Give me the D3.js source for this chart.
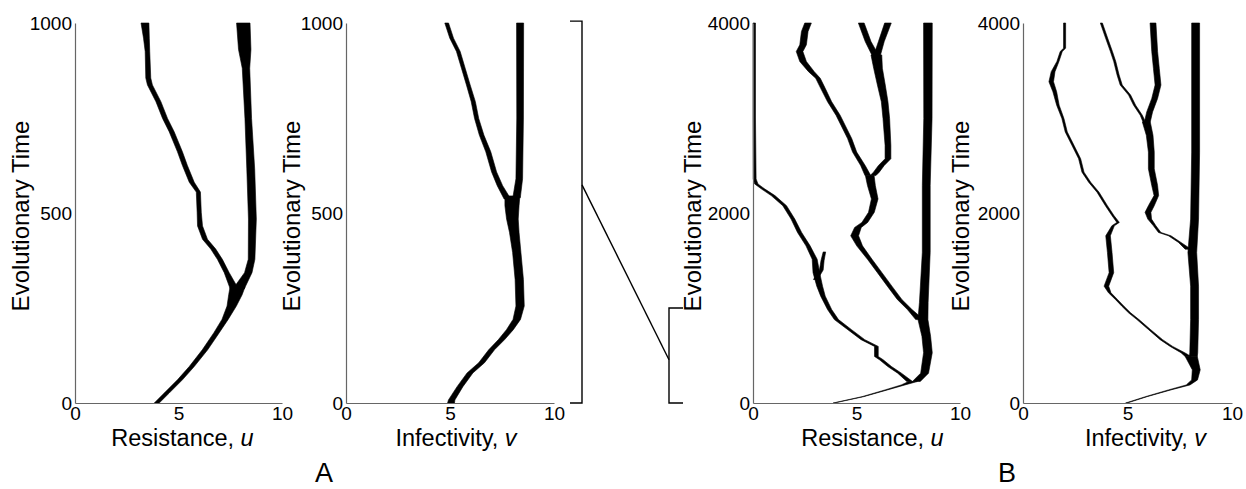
<!DOCTYPE html>
<html>
<head>
<meta charset="utf-8">
<script src="https://cdn.jsdelivr.net/npm/d3@7"></script>
<style>
  html, body { margin: 0; padding: 0; background: #fff; }
  svg { display: block; }
  text { font-family: "Liberation Sans", Arial, Helvetica, sans-serif; fill: #000; }
</style>
</head>
<body>
<svg id="chart" width="1246" height="489"></svg>
<script>
// ---------------- DATA ----------------
// Each branch: list of [time, trait value, trait spread]
const xTicks = [0, 5, 10];
const yTicksA = [0, 500, 1000];
const yTicksB = [0, 2000, 4000];
const panelLetters = ["A", "B"];
const yLabel = "Evolutionary Time";
const xLabelsText = [["Resistance, ", "u"], ["Infectivity, ", "v"], ["Resistance, ", "u"], ["Infectivity, ", "v"]];

const resistanceA = [
  [[0,3.95,0.24],[26,4.43,0.24],[61,5.07,0.24],[96,5.64,0.24],[140,6.28,0.26],[185,6.84,0.26],[220,7.25,0.3],[255,7.57,0.45],[285,7.75,0.65],[305,7.85,0.72]],
  [[300,7.9,0.55],[343,8.37,0.36],[378,8.53,0.32],[484,8.57,0.38],[616,8.49,0.38],[749,8.37,0.32],[881,8.26,0.36],[930,8.2,0.6],[1000,8.13,0.65]],
  [[300,7.7,0.4],[343,7.33,0.24],[378,7.0,0.24],[405,6.68,0.24],[431,6.28,0.24],[466,6.04,0.24],[502,6.0,0.2],[555,5.96,0.2],[581,5.64,0.24],[625,5.31,0.24],[661,5.07,0.24],[714,4.67,0.24],[749,4.35,0.24],[793,4.03,0.24],[837,3.62,0.24],[855,3.54,0.24],[925,3.5,0.22],[960,3.45,0.28],[1000,3.38,0.38]]
];
const infectivityA = [
  [[0,5.05,0.33],[8,5.08,0.31],[43,5.48,0.28],[79,5.96,0.28],[106,6.52,0.28],[140,7.0,0.28],[167,7.48,0.3],[193,7.88,0.33],[220,8.21,0.36],[255,8.37,0.4],[325,8.33,0.4],[396,8.21,0.4],[449,8.09,0.46],[484,8.0,0.56],[519,7.98,0.68],[545,8.0,0.72]],
  [[540,8.2,0.36],[590,8.33,0.32],[750,8.37,0.32],[1000,8.37,0.34]],
  [[537,7.76,0.32],[572,7.4,0.26],[608,7.12,0.24],[661,6.84,0.24],[705,6.52,0.22],[749,6.28,0.2],[793,6.12,0.2],[837,5.88,0.18],[881,5.64,0.18],[925,5.4,0.18],[960,5.08,0.18],[1000,4.84,0.18]]
];
const resistanceB = [
  [[0,3.9,0.06],[67,5.31,0.08],[138,6.44,0.12],[190,7.25,0.18],[226,7.73,0.42]],
  [[226,7.89,0.38],[314,8.29,0.38],[529,8.45,0.42],[702,8.37,0.42],[878,8.21,0.48],[1058,8.25,0.42],[1587,8.37,0.38],[2289,8.37,0.38],[2994,8.45,0.4],[4000,8.45,0.42]],
  [[226,7.57,0.28],[314,7.08,0.18],[384,6.6,0.18],[455,6.2,0.18],[490,5.96,0.18],[596,5.96,0.18],[667,5.31,0.18],[772,4.67,0.18],[878,4.03,0.2],[984,3.7,0.2],[1125,3.38,0.22],[1230,3.22,0.28],[1372,3.06,0.32],[1513,2.98,0.24],[1654,2.66,0.2],[1795,2.25,0.2],[1936,1.93,0.18],[2077,1.53,0.18],[2183,0.97,0.18],[2254,0.48,0.16],[2306,0.16,0.16],[2359,0.08,0.14],[3000,0.06,0.12],[4000,0.06,0.12]],
  [[1300,3.02,0.2],[1400,3.3,0.18],[1500,3.36,0.15],[1590,3.45,0.12]],
  [[878,8.05,0.38],[984,7.57,0.22],[1090,7.08,0.22],[1230,6.6,0.22],[1372,6.12,0.22],[1513,5.64,0.22],[1654,5.15,0.28],[1760,4.91,0.38],[1848,5.07,0.32],[1901,5.4,0.28],[2007,5.72,0.28],[2148,5.88,0.32],[2289,5.72,0.38],[2394,5.64,0.42]],
  [[2394,5.55,0.28],[2500,5.31,0.22],[2641,4.91,0.2],[2783,4.67,0.2],[2924,4.35,0.2],[3029,4.11,0.2],[3171,3.7,0.2],[3312,3.38,0.22],[3418,3.14,0.22],[3488,2.82,0.28],[3594,2.42,0.32],[3700,2.25,0.32],[3770,2.42,0.32],[3911,2.5,0.32],[4000,2.66,0.32]],
  [[2394,5.8,0.28],[2430,5.96,0.28],[2500,6.2,0.28],[2571,6.52,0.28],[2712,6.52,0.28],[2994,6.44,0.32],[3171,6.36,0.32],[3347,6.2,0.38],[3523,6.04,0.42],[3664,5.96,0.52]],
  [[3664,5.9,0.32],[3805,5.56,0.28],[4000,5.23,0.28]],
  [[3664,6.0,0.32],[3805,6.2,0.28],[4000,6.52,0.32]]
];
const infectivityB = [
  [[0,4.95,0.08],[67,5.9,0.08],[138,7.02,0.12],[190,7.9,0.18],[243,8.21,0.28],[349,8.29,0.38],[490,8.05,0.58]],
  [[490,8.15,0.38],[529,8.17,0.38],[878,8.21,0.38],[1230,8.21,0.38],[1584,8.1,0.42],[1936,8.21,0.38],[2641,8.26,0.38],[4000,8.26,0.38]],
  [[490,7.9,0.28],[529,7.65,0.18],[596,7.1,0.12],[667,6.62,0.12],[772,6.06,0.1],[878,5.5,0.1],[949,5.1,0.1],[1019,4.78,0.1],[1090,4.47,0.1],[1160,4.15,0.12],[1230,3.99,0.22],[1372,4.23,0.22],[1584,4.15,0.22],[1760,4.07,0.22],[1865,4.31,0.12],[1901,4.55,0.12],[1971,4.31,0.1],[2077,3.99,0.1],[2219,3.59,0.1],[2324,3.19,0.1],[2430,2.87,0.1],[2571,2.71,0.1],[2712,2.39,0.1],[2853,2.07,0.1],[2994,1.91,0.1],[3135,1.67,0.12],[3276,1.52,0.18],[3382,1.35,0.22],[3488,1.44,0.18],[3594,1.67,0.1],[3700,1.83,0.1],[3735,1.99,0.1],[4000,1.99,0.1]],
  [[1619,7.9,0.28],[1690,7.5,0.12],[1760,7.02,0.12],[1795,6.54,0.12],[1865,6.3,0.12],[1936,6.06,0.18],[2007,5.98,0.28],[2077,6.14,0.28],[2183,6.38,0.22],[2289,6.3,0.28],[2465,6.14,0.28],[2641,6.14,0.28],[2818,6.06,0.32],[2959,5.9,0.38]],
  [[2959,5.8,0.12],[3029,5.66,0.1],[3135,5.34,0.1],[3241,5.1,0.1],[3347,4.7,0.1],[3453,4.55,0.1],[3594,4.39,0.1],[3700,4.23,0.1],[3841,4.0,0.1],[4000,3.75,0.1]],
  [[2959,5.95,0.28],[3064,6.06,0.28],[3206,6.3,0.28],[3347,6.46,0.28],[3523,6.38,0.28],[3700,6.3,0.28],[4000,6.22,0.28]]
];

// ---------------- LAYOUT ----------------
const svg = d3.select("#chart");
const yTop = 23, yBottom = 403;
const panels = [
  { x0: 75,   x1: 282,  tmax: 1000, ticks: yTicksA, data: resistanceA, label: xLabelsText[0], ylOff: 46, xlOff: 4 },
  { x0: 346,  x1: 554,  tmax: 1000, ticks: yTicksA, data: infectivityA, label: xLabelsText[1], ylOff: 46, xlOff: 6 },
  { x0: 753,  x1: 960,  tmax: 4000, ticks: yTicksB, data: resistanceB, label: xLabelsText[2], ylOff: 52, xlOff: 16 },
  { x0: 1023, x1: 1232, tmax: 4000, ticks: yTicksB, data: infectivityB, label: xLabelsText[3], ylOff: 54, xlOff: 18 }
];

const scales = [];
panels.forEach((p, i) => {
  const x = d3.scaleLinear().domain([0, 10]).range([p.x0, p.x1]);
  const y = d3.scaleLinear().domain([0, p.tmax]).range([yBottom, yTop]);
  scales.push({ x, y });
  const g = svg.append("g");

  // branches
  const area = d3.area()
    .x0(d => x(d[1] - d[2] / 2))
    .x1(d => x(d[1] + d[2] / 2))
    .y(d => y(d[0]))
    .curve(d3.curveLinear);
  g.selectAll("path.branch").data(p.data).enter().append("path")
    .attr("class", "branch")
    .attr("d", area)
    .attr("fill", "#000")
    .attr("stroke", "#000")
    .attr("stroke-width", 0.6)
    .attr("stroke-linejoin", "round");

  // axes
  const ya = g.append("g").attr("transform", `translate(${p.x0},0)`)
    .call(d3.axisLeft(y).tickValues(p.ticks).tickSize(0).tickSizeOuter(0).tickPadding(3).tickFormat(d3.format("d")));
  const xa = g.append("g").attr("transform", `translate(0,${yBottom})`)
    .call(d3.axisBottom(x).tickValues(xTicks).tickSize(0).tickSizeOuter(0).tickPadding(4));
  [ya, xa].forEach(a => {
    a.select(".domain").attr("stroke", "#666").attr("stroke-width", 1.2);
    a.selectAll("text").style("font-size", "19px").style("font-family", '"Liberation Sans", Arial, sans-serif').attr("fill", "#000");
  });

  // y label
  g.append("text")
    .attr("transform", `translate(${p.x0 - p.ylOff},216) rotate(-90)`)
    .attr("text-anchor", "middle")
    .style("font-size", "24px")
    .text(yLabel);

  // x label
  const xl = g.append("text")
    .attr("x", (p.x0 + p.x1) / 2 + p.xlOff)
    .attr("y", 446)
    .attr("text-anchor", "middle")
    .style("font-size", "23.5px");
  xl.append("tspan").text(p.label[0]);
  xl.append("tspan").style("font-style", "italic").text(p.label[1]);
});

// panel letters
svg.append("text").attr("x", 324).attr("y", 482).attr("text-anchor", "middle")
  .style("font-size", "27px").text(panelLetters[0]);
svg.append("text").attr("x", 1007).attr("y", 482).attr("text-anchor", "middle")
  .style("font-size", "27px").text(panelLetters[1]);

// zoom brackets linking panel A time span to the first 1000 of panel B
const yA = scales[1].y, yB = scales[2].y;
const bigX = 582, smallX = 669;
const br = svg.append("g").attr("stroke", "#000").attr("stroke-width", 1.4).attr("fill", "none");
br.append("path").attr("d", `M${bigX - 12},${yA(1005)}H${bigX}V${yA(0)}H${bigX - 12}`);
br.append("path").attr("d", `M${smallX + 14},${yB(1000)}H${smallX}V${yB(0)}H${smallX + 14}`);
br.append("path").attr("d", `M${bigX},${yA(574)}L${smallX},${yB(455)}`);
</script>
</body>
</html>
